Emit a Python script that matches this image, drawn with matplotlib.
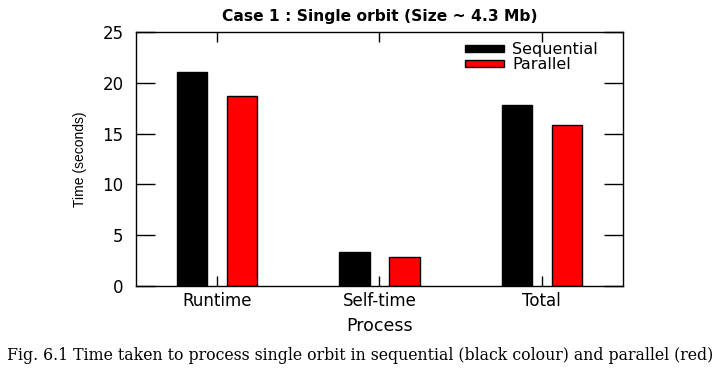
import numpy as np
import matplotlib.pyplot as plt

# data
categories = ['Runtime', 'Self-time', 'Total']
sequential = [21.1, 3.35, 17.8]
parallel = [18.7, 2.85, 15.85]

plt.rcParams['font.family'] = ['DejaVu Sans']

fig = plt.figure(figsize=(7.27, 3.73), dpi=100)
ax = fig.add_axes([0.187, 0.233, 0.670, 0.681])

x = np.arange(len(categories))
w = 0.185
ax.bar(x - 0.154, sequential, w, color='black', edgecolor='black', linewidth=1, label='Sequential')
ax.bar(x + 0.154, parallel, w, color='red', edgecolor='black', linewidth=1, label='Parallel')

ax.set_xlim(-0.5, 2.5)
ax.set_ylim(0, 25)
ax.set_xticks(x)
ax.set_xticklabels(categories, fontsize=12)
ax.set_yticks(range(0, 26, 5))
ax.tick_params(axis='y', direction='in', length=14, width=1, right=True, labelsize=12, pad=9)
ax.tick_params(axis='x', direction='in', length=7, width=1, top=True, pad=4)
for s in ax.spines.values():
    s.set_linewidth(1)

ax.set_xlabel('Process', fontsize=12.5, labelpad=5)
ax.set_ylabel('Time (seconds)', fontsize=10, labelpad=11, family=['Liberation Sans'])
ax.set_title('Case 1 : Single orbit (Size ~ 4.3 Mb)', fontsize=11.2, fontweight='bold', pad=8)

ax.legend(loc='upper left', bbox_to_anchor=(0.676, 0.959), frameon=False,
          handlelength=2.4, handleheight=0.28, handletextpad=0.55,
          labelspacing=0.0, borderpad=0, borderaxespad=0, fontsize=11.5)

fig.text(0.495, 0.048, 'Fig. 6.1 Time taken to process single orbit in sequential (black colour) and parallel (red)',
         ha='center', va='center', fontsize=11.3, family=['DejaVu Serif'])

plt.savefig('out.png', dpi=100)
